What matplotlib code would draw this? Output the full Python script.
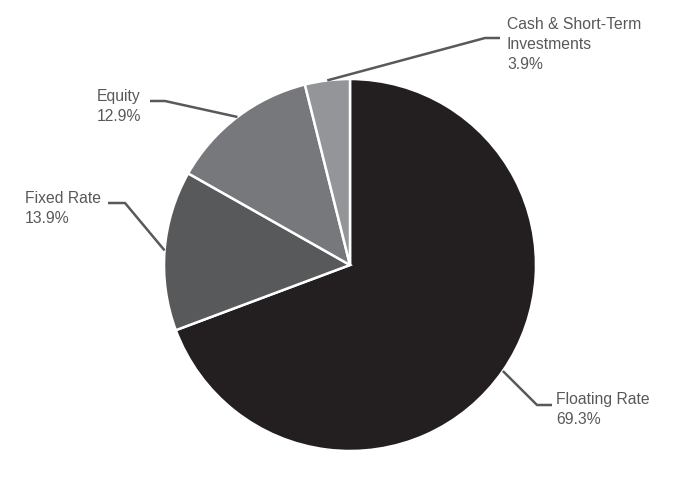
import numpy as np
import matplotlib
matplotlib.use("Agg")
import matplotlib.pyplot as plt

plt.rcParams['font.family'] = ['Liberation Sans', 'DejaVu Sans']

categories = ["Floating Rate", "Fixed Rate", "Equity", "Cash & Short-Term\nInvestments"]
values = [69.3, 13.9, 12.9, 3.9]
colors = ["#231f20", "#58595b", "#77787b", "#949598"]

W, H = 700, 500
fig = plt.figure(figsize=(7, 5), dpi=100)
ax = fig.add_axes([0, 0, 1, 1])

cx, cy, r = 350, H - 265, 186
wedges, _ = ax.pie(values, colors=colors, startangle=90, counterclock=False,
                   center=(cx, cy), radius=r,
                   wedgeprops=dict(edgecolor="white", linewidth=1.8))
ax.set_xlim(0, W)
ax.set_ylim(0, H)
ax.set_aspect("equal")
ax.axis("off")

# label layout (pixel coords from top-left): elbow x, elbow y, end x, text x, text top y
layout = [
    (537, 405, 552, 556, 392),
    (125, 203, 108, 25, 191),
    (165, 101, 150, 97, 89),
    (485, 38, 500, 507, 17),
]
line_col = "#58595b"
for w, cat, val, (ex, ey, tx_end, tx, ty) in zip(wedges, categories, values, layout):
    mid = np.deg2rad((w.theta1 + w.theta2) / 2)
    ax_ = cx + r * np.cos(mid)
    ay_ = cy + r * np.sin(mid)
    ax.plot([ax_, ex, tx_end], [ay_, H - ey, H - ey], color=line_col, lw=1.8,
            solid_capstyle="butt")
    txt = f"{cat}\n{val:.1f}%"
    ax.text(tx, H - ty, txt, ha="left", va="top", fontsize=11.3,
            color=line_col, linespacing=1.42)

fig.savefig("out.png", dpi=100)
